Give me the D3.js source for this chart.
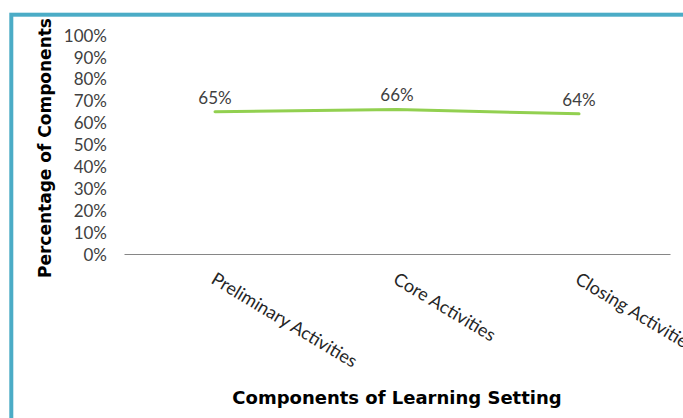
<!DOCTYPE html>
<html>
<head>
<meta charset="utf-8">
<script src="https://cdn.jsdelivr.net/npm/d3@7"></script>
<style>
  html, body { margin: 0; padding: 0; background: #fff; }
  svg { display: block; }
</style>
</head>
<body>
<svg id="chart" width="683" height="418"></svg>
<script>
// Chart data
const categories = ["Preliminary Activities", "Core Activities", "Closing Activities"];
const values = [0.65, 0.66, 0.64];
const valueLabels = ["65%", "66%", "64%"];
const yTicks = [0, 0.1, 0.2, 0.3, 0.4, 0.5, 0.6, 0.7, 0.8, 0.9, 1.0];
const xTitle = "Components of Learning Setting";
const yTitle = "Percentage of Components";

const svg = d3.select("#chart");
const W = 683, H = 418;
const plot = { left: 124, right: 670, top: 35, bottom: 254 };

// Frame around the chart area
svg.append("rect")
  .attr("x", 11.3).attr("y", 14.7)
  .attr("width", W + 20).attr("height", H + 20)
  .attr("fill", "none")
  .attr("stroke", "#4BACC6")
  .attr("stroke-width", 4);

const x = d3.scaleBand().domain(categories).range([plot.left, plot.right]);
const y = d3.scaleLinear().domain([0, 1]).range([plot.bottom, plot.top]);

const labelFont = "Lato, 'Open Sans', sans-serif";
const titleFont = "'DejaVu Sans', Verdana, sans-serif";

// Y axis tick labels (no axis line)
const yAxis = d3.axisLeft(y).tickValues(yTicks).tickFormat(d3.format(".0%")).tickSize(0).tickPadding(0);
const gy = svg.append("g").attr("transform", `translate(107,0)`).call(yAxis);
gy.select(".domain").remove();
gy.selectAll("text")
  .attr("font-family", labelFont)
  .attr("font-size", 17)
  .attr("fill", "#404040")
  .attr("dy", "0.36em");

// X axis line with rotated category labels
const xAxis = d3.axisBottom(x).tickSize(0).tickPadding(0);
const gx = svg.append("g").attr("transform", `translate(0,${plot.bottom})`).call(xAxis);
gx.select(".domain").attr("stroke", "#868686").attr("stroke-width", 1);
gx.selectAll("text")
  .attr("font-family", labelFont)
  .attr("font-size", 18)
  .attr("fill", "#262626")
  .attr("text-anchor", "start")
  .attr("dy", "0.75em")
  .attr("transform", "translate(2,17) rotate(31)");

// Line series
const line = d3.line()
  .x((d, i) => x(categories[i]) + x.bandwidth() / 2)
  .y(d => y(d));
svg.append("path")
  .datum(values)
  .attr("d", line)
  .attr("fill", "none")
  .attr("stroke", "#92D050")
  .attr("stroke-width", 3)
  .attr("stroke-linecap", "round");

// Data labels
svg.append("g").selectAll("text")
  .data(values)
  .join("text")
  .attr("x", (d, i) => x(categories[i]) + x.bandwidth() / 2)
  .attr("y", d => y(d) - 8)
  .attr("text-anchor", "middle")
  .attr("font-family", labelFont)
  .attr("font-size", 17)
  .attr("fill", "#404040")
  .text((d, i) => valueLabels[i]);

// Axis titles
svg.append("text")
  .attr("x", (plot.left + plot.right) / 2)
  .attr("y", 404)
  .attr("text-anchor", "middle")
  .attr("font-family", titleFont)
  .attr("font-weight", "bold")
  .attr("font-size", 18)
  .attr("fill", "#000")
  .text(xTitle);

svg.append("text")
  .attr("transform", `translate(51,148) rotate(-90)`)
  .attr("text-anchor", "middle")
  .attr("font-family", titleFont)
  .attr("font-weight", "bold")
  .attr("font-size", 17)
  .attr("fill", "#000")
  .text(yTitle);
</script>
</body>
</html>
